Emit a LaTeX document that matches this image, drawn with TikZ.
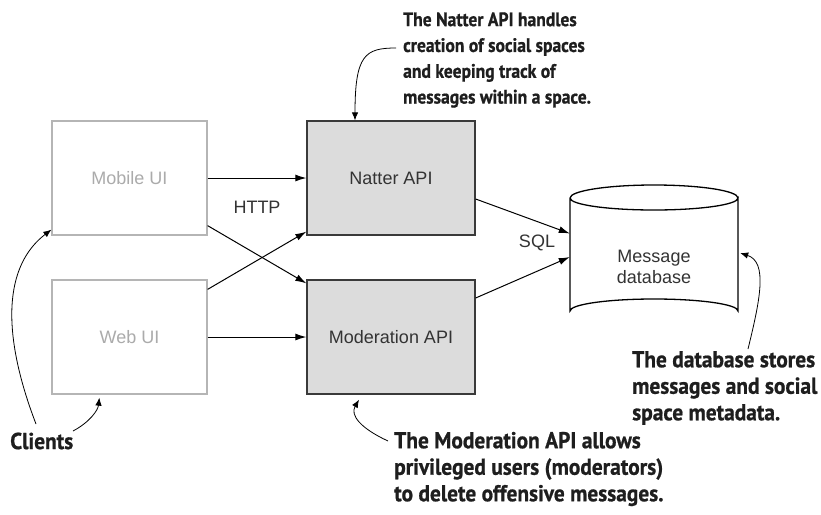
\documentclass[tikz,border=0pt]{standalone}
\usepackage{fontspec}
\setmainfont{PT Sans}[FakeStretch=0.9, BoldFeatures={FakeBold=0.8}]
\newfontfamily\widenote{PT Sans}[FakeStretch=0.93, BoldFeatures={FakeBold=0.8}]
\newfontfamily\boxfont{Liberation Sans}
\usetikzlibrary{arrows.meta}
\definecolor{uiline}{HTML}{B5B5B5}
\definecolor{uitext}{HTML}{ABABAB}
\definecolor{apifill}{HTML}{DCDCDC}
\definecolor{apiline}{HTML}{3A3A3A}
\definecolor{labeltext}{HTML}{333333}
\definecolor{notetext}{HTML}{1E1E1E}
\tikzset{
  uibox/.style={draw=uiline, line width=1.3pt, fill=white, text=uitext,
    minimum width=155pt, minimum height=114pt, inner sep=0pt,
    font=\boxfont\fontsize{18}{21}\selectfont},
  apibox/.style={draw=apiline, line width=1.3pt, fill=apifill, text=labeltext,
    minimum width=168pt, minimum height=114pt, inner sep=0pt,
    font=\boxfont\fontsize{18}{21}\selectfont},
  plainlabel/.style={text=labeltext, inner sep=0pt,
    font=\boxfont\fontsize{18}{21}\selectfont},
  note/.style={anchor=west, align=left, inner sep=0pt, text=notetext,
    font=\bfseries\fontsize{19.5}{25.8}\selectfont},
  bignote/.style={note, font=\widenote\bfseries\fontsize{23}{26.5}\selectfont},
  flow/.style={line width=1pt, -{Latex[length=11pt,width=7pt]}},
  pointer/.style={line width=0.8pt, -{Latex[length=8pt,width=6.5pt]}}
}
\begin{document}
\begin{tikzpicture}[x=1pt,y=-1pt]
\useasboundingbox (0,0) rectangle (821,514);

% clients and services
\node[uibox]  (mob) at (129.5,178) {Mobile UI};
\node[uibox]  (web) at (129.5,337) {Web UI};
\node[apibox] (nat) at (391,178) {Natter API};
\node[apibox] (mod) at (391,337) {Moderation API};

% message database drawn as a cylinder
\node[minimum width=168pt, minimum height=113pt, inner sep=0pt] (db) at (654,254.5) {};
\draw[line width=1.3pt, fill=white]
  (570,198) -- (570,311) arc[start angle=180, end angle=360, x radius=84, y radius=12]
  -- (738,198) arc[start angle=0, end angle=180, x radius=84, y radius=12];
\draw[line width=1.3pt] (570,198) arc[start angle=180, end angle=360, x radius=84, y radius=13];
\node[plainlabel, align=center] (dbtext) at (654,267) {Message\\database};

% HTTP connectors
\draw[flow] (mob.east) -- (nat.west);
\draw[flow] ([yshift=10pt]mob.south east) -- ([yshift=-4pt]mod.north west);
\draw[flow] ([yshift=-10pt]web.north east) -- ([yshift=4pt]nat.south west);
\draw[flow] (web.east) -- (mod.west);
\node[plainlabel] (http) at (257,207) {HTTP};

% SQL connectors
\draw[flow] ([yshift=-21pt]nat.east) -- ([yshift=21pt]db.west);
\draw[flow] ([yshift=39pt]mod.east) -- ([yshift=-2.5pt]db.west);
\node[plainlabel] (sql) at (537,243) {SQL};

% annotations
\node[note] (natnote) at (403,60) {The Natter API handles\\creation of social spaces\\and keeping track of\\messages within a space.};
\node[bignote] (dbnote) at (632,388) {The database stores\\messages and social\\space metadata.};
\node[bignote] (modnote) at (394,469) {The Moderation API allows\\privileged users (moderators)\\to delete offensive messages.};
\node[bignote] (clients) at (10,441) {Clients};

\coordinate (natfrom) at (396,48);
\coordinate (dbfrom) at (748,349);
\coordinate (modfrom) at (388,441);
\coordinate (clifromA) at (36,424);
\coordinate (clifromB) at (73,431);

\draw[pointer] (natfrom) .. controls (365,48) and (355,55) .. ([xshift=-36pt]nat.north);
\draw[pointer] (dbfrom) .. controls (760,300) and (768,262) .. ([xshift=2pt,yshift=1.5pt]db.east);
\draw[pointer] (modfrom) .. controls (360,428) and (350,415) .. ([xshift=-32pt,yshift=-5pt]mod.south);
\draw[pointer] (clifromA) .. controls (0,330) and (5,265) .. ([yshift=6pt]mob.south west);
\draw[pointer] (clifromB) .. controls (90,422) and (98,410) .. ([xshift=48pt,yshift=-3pt]web.south west);
\end{tikzpicture}
\end{document}
